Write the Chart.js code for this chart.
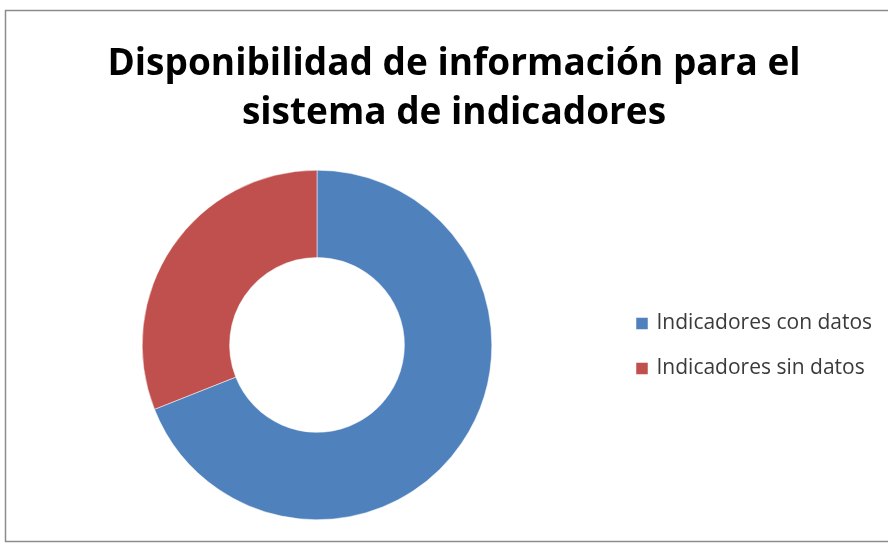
<!DOCTYPE html>
<html>
<head>
<meta charset="utf-8">
<script src="https://cdn.jsdelivr.net/npm/chart.js@4"></script>
<style>
html,body{margin:0;padding:0;background:#fff;}
#wrap{position:relative;width:888px;height:544px;}
</style>
</head>
<body>
<div id="wrap"><canvas id="c" width="888" height="544"></canvas></div>
<script>
const titleLines = ["Disponibilidad de información para el", "sistema de indicadores"];
const categories = ["Indicadores con datos", "Indicadores sin datos"];
const values = [69, 31];
const colors = ["#4F81BD", "#C0504D"];

const LEGEND_W = 274;
const LEGEND_CENTER_Y = 346;

const frame = {
  id: 'frame',
  beforeUpdate(chart) {
    const lg = chart.legend;
    if (lg && !lg._patched) {
      const f = lg.fit.bind(lg);
      lg.fit = function () { f(); this.width = LEGEND_W; };
      lg._patched = true;
    }
  },
  afterLayout(chart) {
    const lg = chart.legend;
    if (lg) {
      const shift = LEGEND_CENTER_Y - (lg.top + lg.bottom) / 2;
      lg.top += shift;
      lg.bottom += shift;
    }
  },
  beforeDraw(chart) {
    const ctx = chart.ctx;
    ctx.save();
    ctx.fillStyle = '#fff';
    ctx.fillRect(0, 0, chart.width, chart.height);
    ctx.strokeStyle = '#8c8c8c';
    ctx.lineWidth = 1.5;
    ctx.strokeRect(5.5, 10.5, 900, 531);
    ctx.restore();
  }
};

new Chart(document.getElementById('c'), {
  type: 'doughnut',
  data: {
    labels: categories,
    datasets: [{
      data: values,
      backgroundColor: colors,
      borderColor: '#ffffff',
      borderWidth: 0.5,
      hoverOffset: 0
    }]
  },
  options: {
    responsive: false,
    animation: false,
    cutout: '50%',
    layout: { padding: { top: 20, left: 20, right: 0, bottom: 24 } },
    plugins: {
      title: {
        display: true,
        text: titleLines,
        color: '#000',
        font: { family: 'Open Sans', size: 37, weight: 'bold', lineHeight: 1.35 },
        padding: { top: 19, bottom: 31 }
      },
      legend: {
        display: true,
        position: 'right',
        align: 'center',
        labels: {
          color: '#3a3a3a',
          font: { family: 'Open Sans', size: 21 },
          usePointStyle: true,
          pointStyle: 'rect',
          boxWidth: 8,
          boxHeight: 12,
          padding: 24
        }
      },
      tooltip: { enabled: false }
    }
  },
  plugins: [frame]
});
</script>
</body>
</html>
